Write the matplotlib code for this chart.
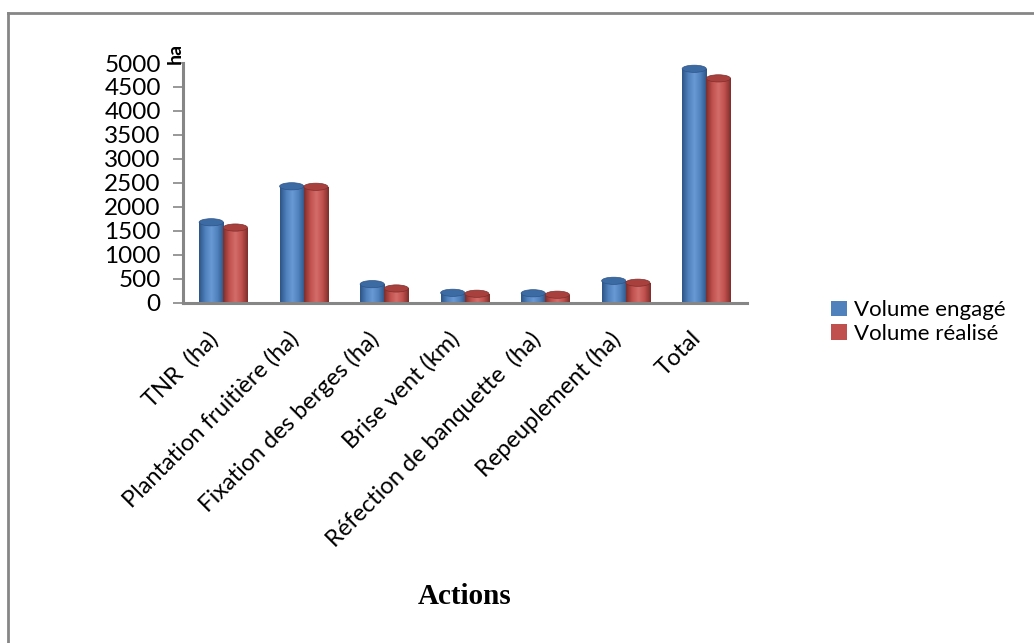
import numpy as np
import matplotlib.pyplot as plt
import matplotlib.transforms as mtransforms
from matplotlib.colors import LinearSegmentedColormap
from matplotlib.patches import Ellipse, Patch
from matplotlib.lines import Line2D

# actions et volumes (ha / km)
actions = ["TNR  (ha)", "Plantation fruitière (ha)", "Fixation des berges (ha)",
           "Brise vent (km)", "Réfection de banquette  (ha)", "Repeuplement (ha)", "Total"]
engage = [1680, 2430, 390, 210, 200, 460, 4880]
realise = [1570, 2420, 300, 190, 170, 420, 4680]

bleu = "#4F81BD"
rouge = "#C0504D"
gris = "#868686"

plt.rcParams['font.family'] = ['Lato', 'DejaVu Sans']

fig = plt.figure(figsize=(10.34, 6.43), dpi=100)
ax = fig.add_axes([0.177, 0.529, 0.545, 0.373])

x = np.arange(len(actions))
w = 0.3
b1 = ax.bar(x - w/2, engage, w, color=bleu, zorder=2)
b2 = ax.bar(x + w/2, realise, w, color=rouge, zorder=2)

# ombrage type cylindre
grad = np.linspace(0, 1, 64).reshape(1, -1)
def cylindre(barres, fonce, base, clair, dessus):
    cm = LinearSegmentedColormap.from_list("cyl", [fonce, base, clair, base, fonce])
    for p in barres:
        x0, h, wd = p.get_x(), p.get_height(), p.get_width()
        im = ax.imshow(grad, cmap=cm, extent=[x0, x0 + wd, 0, h], aspect='auto', zorder=2.5)
        im.set_clip_path(p)
        ax.add_patch(Ellipse((x0 + wd/2, h), wd, 150, facecolor=dessus,
                             edgecolor=fonce, linewidth=0.5, zorder=3))

cylindre(b1, "#2E5587", bleu, "#6A9AD6", "#3C6AA3")
cylindre(b2, "#7E2F2C", rouge, "#D46D6A", "#A8403D")

ax.set_xlim(-0.5, len(actions) - 0.5)
ax.set_ylim(0, 5000)
ax.set_yticks(range(0, 5001, 500))
ax.tick_params(axis='y', labelsize=17.5, length=7, width=1.2, color=gris, pad=9)
ax.set_xticks(x)
ax.set_xticklabels(actions, rotation=45, ha='right', rotation_mode='anchor', fontsize=17)
ax.tick_params(axis='x', length=0, pad=18)
decal = mtransforms.ScaledTranslation(-16/100, 0, fig.dpi_scale_trans)
for lab in ax.get_xticklabels():
    lab.set_transform(lab.get_transform() + decal)

for s in ['top', 'right']:
    ax.spines[s].set_visible(False)
for s in ['left', 'bottom']:
    ax.spines[s].set_color(gris)
    ax.spines[s].set_linewidth(2.2)

fig.text(175/1034, 1 - 53/643, "ha", rotation=90, fontsize=14, fontweight='bold',
         ha='center', va='center')
fig.text(465/1034, 1 - 597/643, "Actions", fontsize=21, fontweight='bold',
         family='Liberation Serif', ha='center', va='center')

poignees = [Patch(facecolor=bleu), Patch(facecolor=rouge)]
fig.legend(poignees, ["Volume engagé", "Volume réalisé"], loc='center left',
           bbox_to_anchor=(820/1034, 1 - 322/643), frameon=False, fontsize=16,
           borderpad=0, handlelength=0.7, handleheight=0.7, handletextpad=0.35,
           labelspacing=0.15)

# cadre extérieur
fig.add_artist(Line2D([8/1034, 1], [1 - 13/643] * 2, color=gris, linewidth=2))
fig.add_artist(Line2D([8/1034] * 2, [0, 1 - 13/643], color=gris, linewidth=2))

fig.savefig("out.png", dpi=100)
